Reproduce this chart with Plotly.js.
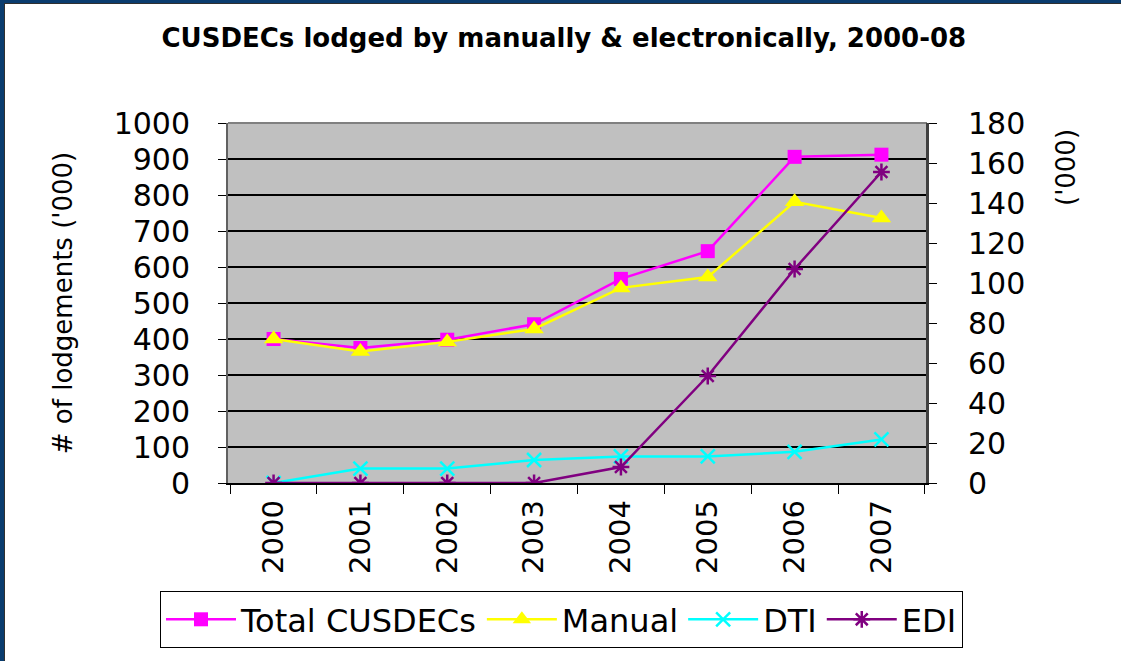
<!DOCTYPE html>
<html>
<head>
<meta charset="utf-8">
<script src="https://cdn.plot.ly/plotly-3.0.1.min.js"></script>
<style>
html,body{margin:0;padding:0;background:#fff;}
#chart{width:1121px;height:661px;}
</style>
</head>
<body>
<div id="chart"></div>
<script>
const years = ["2000","2001","2002","2003","2004","2005","2006","2007"];
const totalCusdecs = [400, 375, 398, 441, 567, 644, 906, 912];
const manual = [400, 365, 392, 428, 542, 572, 781, 736];
const dti = [0, 7.2, 7.2, 11.5, 13.3, 13.3, 15.6, 21.8];
const edi = [0, 0, 0, 0, 8, 53.5, 107, 155.5];
const leftTicks = [0,100,200,300,400,500,600,700,800,900,1000];
const rightTicks = [0,20,40,60,80,100,120,140,160,180];

const FONT = "DejaVu Sans, sans-serif";

const traces = [
  {x: years, y: totalCusdecs, name: "Total CUSDECs", type: "scatter", mode: "lines+markers",
   line: {color: "#ff00ff", width: 2.5},
   marker: {symbol: "square", size: 14, color: "#ff00ff"}},
  {x: years, y: manual, name: "Manual", type: "scatter", mode: "lines+markers",
   line: {color: "#ffff00", width: 2.5},
   marker: {symbol: "triangle-up", size: 17, color: "#ffff00"}},
  {x: years, y: dti, name: "DTI", type: "scatter", mode: "lines+markers", yaxis: "y2",
   line: {color: "#00ffff", width: 2.5},
   marker: {symbol: "x-thin", size: 14, color: "#00ffff", line: {color: "#00ffff", width: 2.5}}},
  {x: years, y: edi, name: "EDI", type: "scatter", mode: "lines+markers", yaxis: "y2",
   line: {color: "#800080", width: 2.5},
   marker: {symbol: "asterisk-open", size: 14, color: "#800080", line: {color: "#800080", width: 2.5}}}
];

const px = p => (p - 228) / 699;
const py = q => (483 - q) / 360;

const layout = {
  width: 1121, height: 661,
  margin: {l: 228, r: 194, t: 123, b: 178},
  paper_bgcolor: "#ffffff",
  plot_bgcolor: "#c0c0c0",
  font: {family: FONT, color: "#000"},
  showlegend: true,
  title: {text: "<b>CUSDECs lodged by manually & electronically, 2000-08</b>",
          font: {family: FONT, size: 26, color: "#000"},
          x: 0.503, xref: "container", xanchor: "center",
          y: 1 - 38/661, yref: "container", yanchor: "middle"},
  xaxis: {type: "category", categoryarray: years, tickangle: -90,
          tickfont: {family: FONT, size: 29, color: "#000"},
          ticks: "outside", tickson: "boundaries", ticklen: 9, tickcolor: "#000",
          showgrid: false, zeroline: false,
          showline: true, linecolor: "#000", linewidth: 1.5, mirror: false,
          ticklabelstandoff: 4},
  yaxis: {range: [0, 1000], tickvals: leftTicks, ticktext: leftTicks.map(String),
          tickfont: {family: FONT, size: 30, color: "#000"},
          ticks: "outside", ticklen: 8, tickcolor: "#000",
          showgrid: true, gridcolor: "#000", gridwidth: 1.2,
          zeroline: false, showline: true, linecolor: "#606060", linewidth: 2,
          ticklabelstandoff: 22,
          title: {text: "# of lodgements ('000)", font: {family: FONT, size: 26, color: "#000"}, standoff: 34}},
  yaxis2: {range: [0, 180], tickvals: rightTicks, ticktext: rightTicks.map(String),
           overlaying: "y", side: "right",
           tickfont: {family: FONT, size: 30, color: "#000"},
           ticks: "outside", ticklen: 8, tickcolor: "#000",
           showgrid: false, zeroline: false, showline: true, linecolor: "#404040", linewidth: 2,
           ticklabelstandoff: 25},
  legend: {orientation: "h", xref: "paper", yref: "paper",
           x: px(160), xanchor: "left", y: py(591), yanchor: "top",
           bgcolor: "#ffffff", bordercolor: "#000", borderwidth: 1,
           font: {family: FONT, size: 32, color: "#000"},
           itemwidth: 70, tracegroupgap: 0},
  annotations: [
    {text: "('000)", xref: "paper", yref: "paper", x: px(1066), y: py(168),
     xanchor: "center", yanchor: "middle", textangle: -90, showarrow: false,
     font: {family: FONT, size: 26, color: "#000"}}
  ],
  shapes: [
    {type: "rect", xref: "paper", yref: "paper", x0: px(0), x1: px(4), y0: py(661), y1: py(0),
     fillcolor: "#0a3c6e", line: {width: 0}, layer: "above"},
    {type: "rect", xref: "paper", yref: "paper", x0: px(0), x1: px(1121), y0: py(3), y1: py(0),
     fillcolor: "#0a3c6e", line: {width: 0}, layer: "above"},
    {type: "line", xref: "paper", yref: "paper", x0: px(4.5), x1: px(4.5), y0: py(661), y1: py(3),
     line: {color: "#303030", width: 1}, layer: "above"},
    {type: "line", xref: "paper", yref: "paper", x0: px(4), x1: px(1121), y0: py(3.5), y1: py(3.5),
     line: {color: "#303030", width: 1}, layer: "above"},
    {type: "line", xref: "paper", yref: "paper", x0: px(927), x1: px(927), y0: 0, y1: 1,
     line: {color: "#404040", width: 2}, layer: "above"},
    {type: "line", xref: "paper", yref: "paper", x0: 0, x1: 1, y0: 1, y1: 1,
     line: {color: "#808080", width: 2}, layer: "below"}
  ]
};

Plotly.newPlot("chart", traces, layout, {displayModeBar: false, staticPlot: true});
</script>
</body>
</html>
